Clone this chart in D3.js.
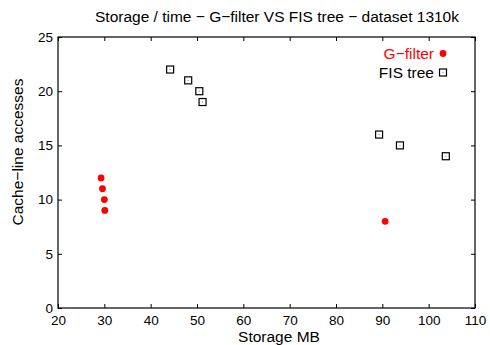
<!DOCTYPE html>
<html>
<head>
<meta charset="utf-8">
<script src="https://cdn.jsdelivr.net/npm/d3@7"></script>
<style>
  body { margin: 0; background: #fff; }
  svg text { font-family: "Liberation Sans", Arial, sans-serif; fill: #000; }
</style>
</head>
<body>
<div id="chart"></div>
<script>
var width = 490,
  height = 345;

// G-filter points
var gfilterX = [29.3, 29.6, 30.0, 30.1, 90.6];
var gfilterY = [12, 11, 10, 9, 8];
// FIS tree points
var fisX = [44.2, 48.1, 50.5, 51.2, 89.3, 93.8, 103.7];
var fisY = [22, 21, 20, 19, 16, 15, 14];

var xTicks = [20, 30, 40, 50, 60, 70, 80, 90, 100, 110];
var yTicks = [0, 5, 10, 15, 20, 25];

var seriesNames = ['G\u2212filter', 'FIS tree'];

var svg = d3.select('#chart').append('svg')
  .attr('width', width)
  .attr('height', height);

var x = d3.scaleLinear().domain([20, 110]).range([58, 475]);
var y = d3.scaleLinear().domain([0, 25]).range([308, 37]);

// frame
svg.append('rect')
  .attr('x', x(20)).attr('y', y(25))
  .attr('width', x(110) - x(20)).attr('height', y(0) - y(25))
  .attr('fill', 'none').attr('stroke', '#000').attr('stroke-width', 1.2);

// ticks pointing inward on all four sides
function noDomain(g) { g.select('.domain').remove(); }

svg.append('g')
  .attr('transform', 'translate(0,' + y(0) + ')')
  .call(d3.axisBottom(x).tickValues(xTicks).tickSizeInner(-4).tickSizeOuter(0).tickPadding(7))
  .call(noDomain)
  .selectAll('text').attr('font-size', 13.5);

svg.append('g')
  .attr('transform', 'translate(0,' + y(25) + ')')
  .call(d3.axisTop(x).tickValues(xTicks).tickSizeInner(-4).tickSizeOuter(0).tickFormat(''))
  .call(noDomain);

svg.append('g')
  .attr('transform', 'translate(' + x(20) + ',0)')
  .call(d3.axisLeft(y).tickValues(yTicks).tickSizeInner(-4).tickSizeOuter(0).tickPadding(5))
  .call(noDomain)
  .selectAll('text').attr('font-size', 13.5);

svg.append('g')
  .attr('transform', 'translate(' + x(110) + ',0)')
  .call(d3.axisRight(y).tickValues(yTicks).tickSizeInner(-4).tickSizeOuter(0).tickFormat(''))
  .call(noDomain);

svg.selectAll('.tick line').attr('stroke', '#000');

// points
var gData = gfilterX.map(function(v, i) { return {x: v, y: gfilterY[i]}; });
var fData = fisX.map(function(v, i) { return {x: v, y: fisY[i]}; });

svg.selectAll('.gdot')
  .data(gData)
  .enter().append('circle').classed('gdot', true)
  .attr('cx', function(d) { return x(d.x); })
  .attr('cy', function(d) { return y(d.y); })
  .attr('r', 3.4)
  .attr('fill', '#ff0000');

function square(sel) {
  sel.append('rect')
    .attr('x', -3.5).attr('y', -3.5)
    .attr('width', 7).attr('height', 7)
    .attr('fill', 'none').attr('stroke', '#000').attr('stroke-width', 1.2);
  sel.append('rect')
    .attr('x', -0.5).attr('y', -0.5)
    .attr('width', 1).attr('height', 1)
    .attr('fill', '#777');
}

svg.selectAll('.fsq')
  .data(fData)
  .enter().append('g').classed('fsq', true)
  .attr('transform', function(d) { return 'translate(' + x(d.x) + ',' + y(d.y) + ')'; })
  .call(square);

// legend
var legend = svg.append('g');
legend.append('text')
  .attr('x', 434).attr('y', 59)
  .attr('text-anchor', 'end').attr('font-size', 15.5)
  .style('fill', '#ff0000')
  .text(seriesNames[0]);
legend.append('circle')
  .attr('cx', 443).attr('cy', 53.5).attr('r', 3.4).attr('fill', '#ff0000');
legend.append('text')
  .attr('x', 434).attr('y', 78)
  .attr('text-anchor', 'end').attr('font-size', 15.5)
  .text(seriesNames[1]);
legend.append('g')
  .attr('transform', 'translate(443,72.5)')
  .call(square);

// title and axis labels
svg.append('text')
  .attr('x', 277).attr('y', 22)
  .attr('text-anchor', 'middle').attr('font-size', 15.5)
  .text('Storage / time \u2212 G\u2212filter VS FIS tree \u2212 dataset 1310k');

svg.append('text')
  .attr('x', 279).attr('y', 342)
  .attr('text-anchor', 'middle').attr('font-size', 15.5)
  .text('Storage MB');

svg.append('text')
  .attr('transform', 'translate(23,152) rotate(-90)')
  .attr('text-anchor', 'middle').attr('font-size', 15.5)
  .text('Cache\u2212line accesses');
</script>
</body>
</html>
